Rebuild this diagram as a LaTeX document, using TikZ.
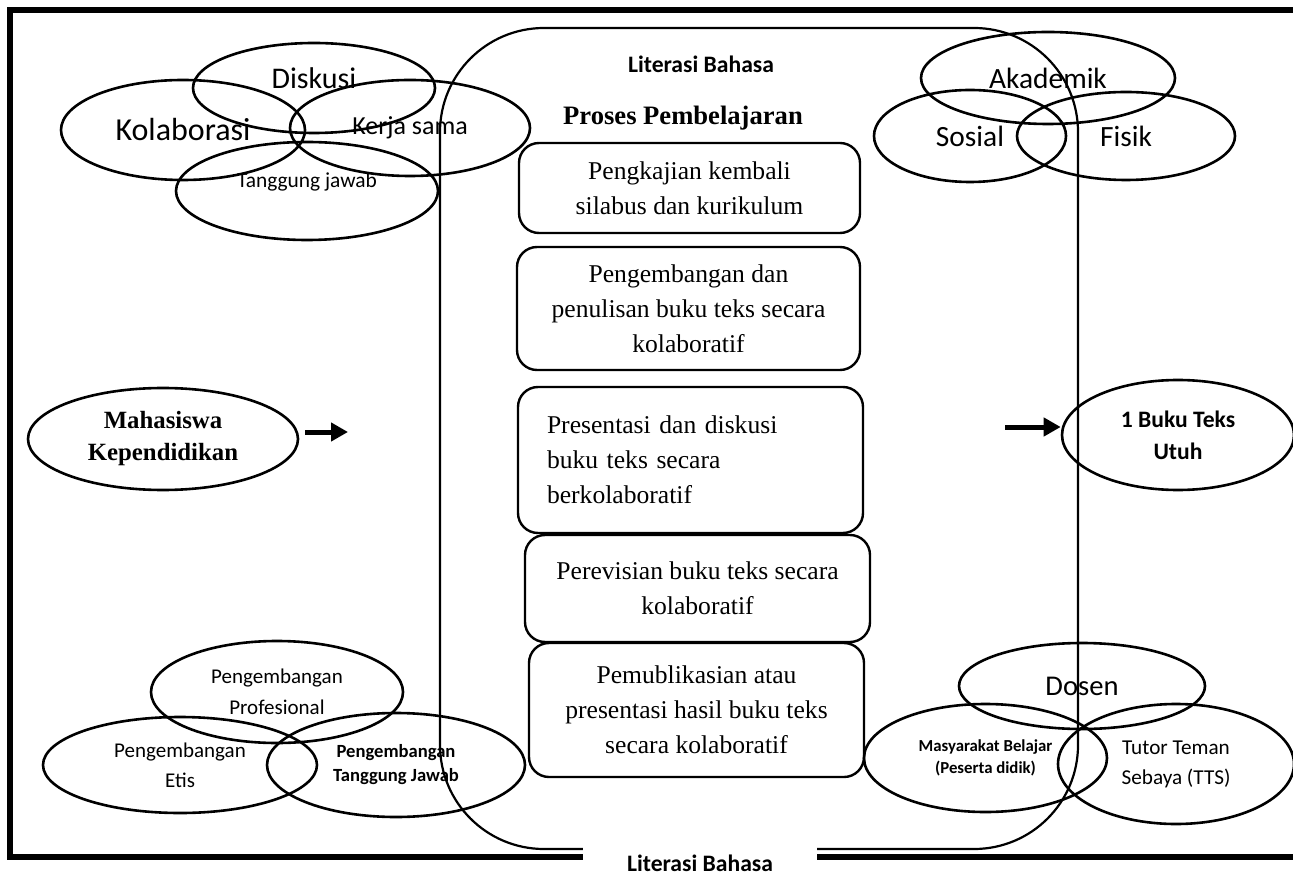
\documentclass[tikz,border=0pt]{standalone}
\usepackage{fontspec}
\setmainfont{Liberation Serif}
\newfontfamily\carlito{Carlito}
\usetikzlibrary{shapes.geometric,arrows.meta}

\begin{document}
\begin{tikzpicture}[x=0.5pt,y=-0.5pt]
        \tikzstyle{blob}=[ellipse, draw=black, line width=1.3pt, inner sep=0pt]
        \tikzstyle{tahap}=[draw=black, line width=1.2pt, rounded corners=10pt, align=center, inner sep=0pt, font=\fontsize{12.8}{17.5}\selectfont]
        \tikzstyle{panah}=[line width=2.5pt, -{Triangle[length=8.5pt,width=9pt]}]
        \tikzstyle{judul}=[font=\carlito\bfseries\fontsize{11.8}{14}\selectfont]

        \useasboundingbox (0,0) rectangle (1293,876);
        \fill[white] (0,0) rectangle (1293,876);

        % bingkai luar dan daerah literasi
        \draw[line width=3pt] (1293,10) -- (10,10) -- (10,857) -- (1293,857);
        \draw[line width=1.1pt, rounded corners=52pt] (440,28) rectangle (1078,849);

        \node[judul] (litA) at (701,64) {Literasi Bahasa};
        \node[font=\bfseries\fontsize{13.3}{16}\selectfont] (proses) at (683,118) {Proses Pembelajaran};

        % tahap-tahap pembelajaran
        \node[tahap, minimum width=170.5pt, minimum height=45pt] (t1) at (689.5,188) {Pengkajian kembali\\silabus dan kurikulum};
        \node[tahap, minimum width=171.5pt, minimum height=61.5pt] (t2) at (688.5,308.5) {Pengembangan dan\\penulisan buku teks secara\\kolaboratif};
        \node[tahap, minimum width=172.5pt, minimum height=73pt, align=left, text width=143.5pt] (t3) at (690.5,460) {Presentasi dan diskusi\\buku teks secara\\berkolaboratif};
        \node[tahap, minimum width=172.5pt, minimum height=53.5pt] (t4) at (697.5,588.5) {Perevisian buku teks secara\\kolaboratif};
        \node[tahap, minimum width=167.5pt, minimum height=67pt] (t5) at (696.5,710) {Pemublikasian atau\\presentasi hasil buku teks\\secara kolaboratif};

        % kiri atas
        \node[blob, minimum width=121pt, minimum height=45pt, text depth=10pt, font=\carlito\fontsize{15}{18}\selectfont] (diskusi) at (314,88) {Diskusi};
        \node[blob, minimum width=122pt, minimum height=50pt, font=\carlito\fontsize{16}{19}\selectfont] (kolab) at (183,130) {Kolaborasi};
        \node[blob, minimum width=120pt, minimum height=48pt, font=\carlito\fontsize{13}{16}\selectfont] (kerja) at (410,128) {Kerja sama};
        \node[blob, minimum width=131pt, minimum height=49pt, text depth=11pt, font=\carlito\fontsize{10.7}{13}\selectfont] (tgjwb) at (307,191) {Tanggung jawab};

        % kanan atas
        \node[blob, minimum width=127pt, minimum height=46pt, font=\carlito\fontsize{14.7}{18}\selectfont] (akad) at (1048,78) {Akademik};
        \node[blob, minimum width=96pt, minimum height=46pt, font=\carlito\fontsize{14.7}{18}\selectfont] (sosial) at (970,136) {Sosial};
        \node[blob, minimum width=109pt, minimum height=44pt, font=\carlito\fontsize{14.7}{18}\selectfont] (fisik) at (1126,136) {Fisik};

        % masukan dan hasil
        \node[blob, minimum width=135pt, minimum height=51pt, align=center, font=\bfseries\fontsize{12.4}{16}\selectfont] (mhs) at (163,439) {Mahasiswa\\Kependidikan};
        \node[blob, minimum width=116pt, minimum height=55pt, align=center, font=\carlito\bfseries\fontsize{11.8}{16}\selectfont] (buku) at (1178,435) {1 Buku Teks\\Utuh};

        \coordinate (a1s) at (305,432);
        \coordinate (a1e) at (348,432);
        \coordinate (a2s) at (1005,427);
        \draw[panah] (a1s) -- (a1e);
        \draw[panah] (a2s) -- (a2s -| buku.west);

        % kiri bawah
        \node[blob, minimum width=126pt, minimum height=51pt, align=center, font=\carlito\fontsize{10.5}{15.5}\selectfont] (profes) at (277,692) {Pengembangan\\Profesional};
        \node[blob, minimum width=137pt, minimum height=48pt, align=center, font=\carlito\fontsize{10.5}{15}\selectfont] (etis) at (180,765) {Pengembangan\\Etis};
        \node[blob, minimum width=129pt, minimum height=52pt, align=center, font=\carlito\bfseries\fontsize{9.3}{12}\selectfont] (pengTJ) at (396,765) {Pengembangan\\Tanggung Jawab};

        % kanan bawah
        \node[blob, minimum width=123pt, minimum height=43pt, font=\carlito\fontsize{14.3}{17}\selectfont] (dosen) at (1082,686) {Dosen};
        \node[blob, minimum width=121.5pt, minimum height=54pt, align=center, font=\carlito\bfseries\fontsize{8.4}{11}\selectfont] (masy) at (985.5,758) {Masyarakat Belajar\\(Peserta didik)};
        \node[blob, minimum width=118pt, minimum height=60pt, align=center, font=\carlito\fontsize{10.6}{15}\selectfont] (tutor) at (1176,764) {Tutor Teman\\Sebaya (TTS)};

        \node[judul, fill=white, minimum width=117pt, minimum height=30pt] (litB) at (700,863) {Literasi Bahasa};
\end{tikzpicture}
\end{document}
